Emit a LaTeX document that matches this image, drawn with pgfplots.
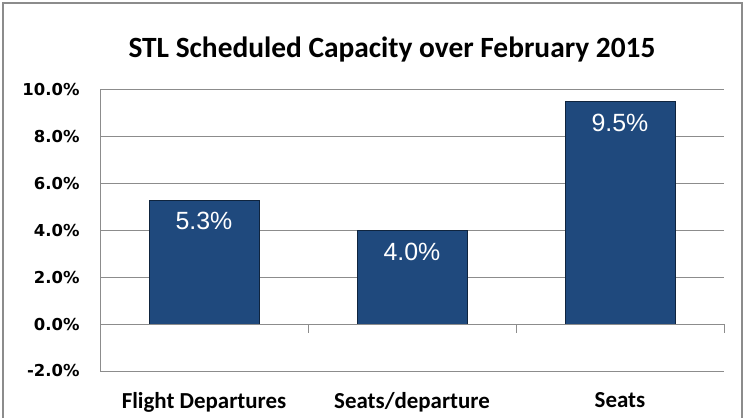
\documentclass[border=0pt]{standalone}
\usepackage{pgfplots}
\pgfplotsset{compat=1.18}
\usepackage{fontspec}
\setmainfont{Carlito}
\newfontfamily\tickfont{DejaVu Sans}
\newfontfamily\barfont{Liberation Sans}
\definecolor{barblue}{HTML}{1F497D}
\definecolor{gridgray}{HTML}{8C8C8C}
\begin{document}
\begin{tikzpicture}[x=1bp,y=1bp]
\useasboundingbox (0,0) rectangle (745,418);
\draw[gridgray, line width=1.5bp] (3,0) -- (3,415) -- (742,415) -- (742,0);
\node[font=\fontsize{29.5}{32}\selectfont\bfseries, anchor=base, inner sep=0pt] at (392,361) {STL Scheduled Capacity over February 2015};
\begin{axis}[
  at={(100bp,47bp)}, anchor=south west,
  scale only axis, width=624bp, height=281bp,
  xmin=-0.5, xmax=2.5, ymin=-2, ymax=10,
  ytick={-2,0,2,4,6,8,10},
  yticklabel={\pgfmathprintnumber[fixed,fixed zerofill,precision=1]{\tick}\%},
  yticklabel style={font=\tickfont\bfseries\fontsize{16.5}{18}\selectfont, xshift=-17bp},
  /pgf/number format/assume math mode=true,
  xtick={0,1,2},
  xticklabels={Flight Departures, Seats/departure, Seats},
  xticklabel style={font=\bfseries\fontsize{23}{25}\selectfont, yshift=-12bp},
  major x tick style={draw=none},
  ytick style={gridgray, line width=1bp},
  major tick length=6bp,
  ytick pos=left,
  ymajorgrids, grid style={gridgray, line width=1bp},
  axis line style={draw=none},
  ybar, bar width=110bp,
  nodes near coords={\pgfmathprintnumber[fixed,fixed zerofill,precision=1]{\pgfplotspointmeta}\%},
  every node near coord/.append style={font=\barfont\fontsize{25}{28}\selectfont, color=white, anchor=north, inner sep=0pt, yshift=-12bp},
  clip=false,
]
\addplot[fill=barblue, draw=barblue!50!black, line width=0.8bp] coordinates {(0,5.3) (1,4.0) (2,9.5)};
\draw[gridgray, line width=1bp] (axis cs:-0.5,-2) -- (axis cs:-0.5,10);
\draw[gridgray, line width=1bp] (axis cs:-0.5,0) -- (axis cs:2.5,0);
\draw[gridgray, line width=1bp] (axis cs:0.5,0) -- ([yshift=-9bp]axis cs:0.5,0);
\draw[gridgray, line width=1bp] (axis cs:1.5,0) -- ([yshift=-9bp]axis cs:1.5,0);
\draw[gridgray, line width=1bp] (axis cs:2.5,0) -- ([yshift=-9bp]axis cs:2.5,0);
\end{axis}
\end{tikzpicture}
\end{document}
